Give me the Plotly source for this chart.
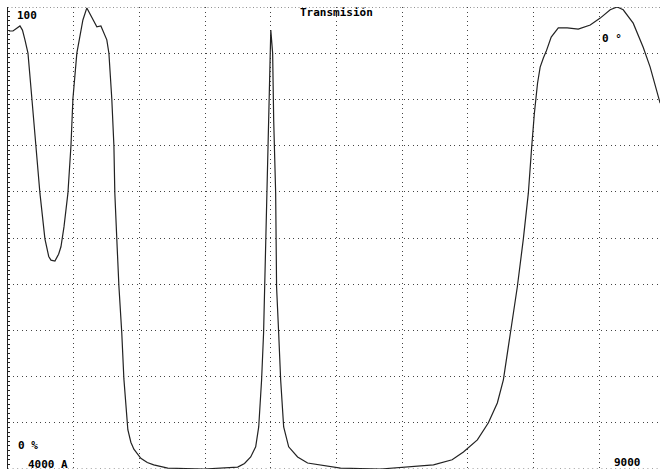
import plotly.graph_objects as go

wavelength = [4008, 4038, 4091, 4110, 4129, 4152, 4182, 4213, 4243, 4281, 4310, 4327, 4357, 4385,
              4403, 4426, 4456, 4479, 4494, 4524, 4555, 4570, 4600, 4676, 4707, 4730, 4752,
              4768, 4790, 4806, 4813, 4828, 4844, 4866, 4882, 4912, 4935, 4958, 5011, 5060,
              5109, 5216, 5490, 5748, 5800, 5847, 5885, 5908, 5930, 5945, 5953, 5968, 5976,
              5984, 5995, 6000, 6014, 6022, 6037, 6044, 6060, 6075, 6098, 6136, 6204, 6280,
              6531, 6835, 7238, 7380, 7466, 7572, 7656, 7724, 7770, 7823, 7876, 7922, 7960,
              7985, 8006, 8030, 8050, 8075, 8096, 8134, 8188, 8256, 8340, 8431, 8507, 8583,
              8636, 8682, 8758, 8834, 8887, 8963]
transmission = [94.8, 94.8, 95.9, 95.0, 92.9, 90.0, 80.1, 69.9, 59.7, 49.8, 46.0, 45.2, 45.0, 46.5,
                48.1, 52.4, 59.7, 69.9, 80.1, 90.0, 95.0, 97.2, 99.8, 95.7, 95.9, 94.4, 92.9,
                90.0, 80.1, 69.9, 59.7, 49.8, 39.6, 29.4, 19.5, 8.5, 5.8, 4.3, 2.3, 1.4,
                0.9, 0.2, 0.0, 0.4, 1.2, 2.6, 4.8, 9.1, 19.3, 29.4, 39.4, 52.4, 63.2,
                73.4, 86.4, 95.0, 90.0, 75.5, 59.7, 39.4, 29.4, 19.3, 9.1, 4.8, 2.6, 1.3,
                0.2, 0.0, 0.9, 2.0, 3.7, 6.3, 10.0, 14.3, 19.3, 29.4, 39.4, 49.8, 59.7,
                69.5, 77.0, 83.5, 87.0, 89.0, 90.4, 93.5, 95.5, 95.5, 95.2, 96.1, 97.6, 99.4,
                100.0, 99.4, 96.5, 91.3, 87.0, 79.2]

x_range = [4000, 8962]
y_range = [0, 100]

FONT = "DejaVu Sans Mono"

fig = go.Figure()
fig.add_trace(go.Scatter(x=wavelength, y=transmission, mode="lines",
                         line=dict(color="#222222", width=1.2),
                         hoverinfo="skip", showlegend=False))

dot = "1px,3.6px"
fig.update_xaxes(range=x_range, dtick=500, tick0=4000, showgrid=True, gridcolor="#444444",
                 gridwidth=1, griddash=dot, showticklabels=False, ticks="", zeroline=False,
                 showline=False)
fig.update_yaxes(range=y_range, dtick=10, tick0=0, showgrid=True, gridcolor="#444444",
                 gridwidth=1, griddash=dot, showticklabels=False, ticks="inside", ticklen=2,
                 tickcolor="#222222", zeroline=False, showline=True, linecolor="#222222",
                 linewidth=1,
                 minor=dict(dtick=1, ticks="inside", ticklen=2, tickcolor="#222222",
                            showgrid=False))

# top and bottom dotted borders
fig.add_shape(type="line", xref="paper", yref="y", x0=0, x1=1, y0=100, y1=100,
              line=dict(color="#222222", width=1, dash="1px,2.5px"))
fig.add_shape(type="line", xref="paper", yref="y", x0=0, x1=1, y0=0, y1=0,
              line=dict(color="#444444", width=1, dash=dot))

def label(text, x, y, xanchor="left", yanchor="middle"):
    fig.add_annotation(text="<b>" + text + "</b>", x=x, y=y, xref="x", yref="y",
                       showarrow=False, xanchor=xanchor, yanchor=yanchor,
                       font=dict(family=FONT, size=11, color="#000000"))

label("100", 4050, 98.2)
label("Transmisión", 6210, 98.9)
label("0 °", 8505, 93.2)
label("0 %", 4060, 5.0)
label("4000 A", 4135, 1.0)
label("9000", 8600, 1.3)

fig.update_layout(width=660, height=471, margin=dict(l=8, r=0, t=7, b=2),
                  paper_bgcolor="white", plot_bgcolor="white")

fig.write_html("out.html")
